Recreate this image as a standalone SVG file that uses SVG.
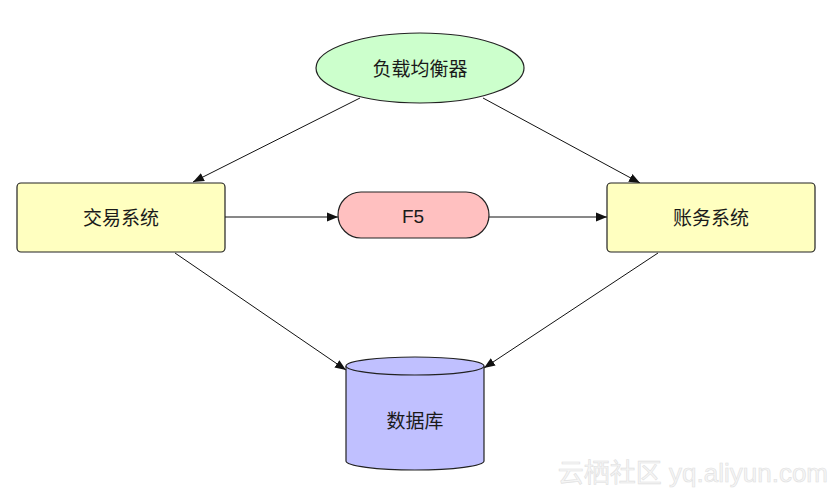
<svg xmlns="http://www.w3.org/2000/svg" width="839" height="498" viewBox="0 0 839 498">
<style>
.lbl{font-family:"Liberation Sans","Noto Sans CJK SC",sans-serif;font-size:19px;fill:#1a1a1a;text-anchor:middle;dominant-baseline:central}
.edge{stroke:#111;stroke-width:1;fill:none;marker-end:url(#arr)}
.box{fill:#ffffc0;stroke:#222;stroke-width:1.2}
</style>
<defs>
<marker id="arr" viewBox="0 0 10 10" refX="10" refY="5" markerWidth="11" markerHeight="11" markerUnits="userSpaceOnUse" orient="auto">
<path d="M0,1 L10,5 L0,9 Z" fill="#111"/>
</marker>
</defs>
<rect width="839" height="498" fill="#fff"/>
<g id="connectors">
<line class="edge" x1="360" y1="98" x2="193" y2="182"/>
<line class="edge" x1="483" y1="98" x2="640" y2="183"/>
<line class="edge" x1="225" y1="217" x2="338" y2="217"/>
<line class="edge" x1="489" y1="217" x2="607" y2="217"/>
<line class="edge" x1="175" y1="253" x2="346" y2="370"/>
<line class="edge" x1="658" y1="253" x2="484" y2="368"/>
</g>
<g id="lb">
<ellipse cx="420" cy="68" rx="104" ry="35" fill="#ccffcc" stroke="#222" stroke-width="1.2"/>
<text class="lbl" x="420" y="69">负载均衡器</text>
</g>
<g id="trade">
<rect class="box" x="17" y="183" width="208" height="69" rx="4"/>
<text class="lbl" x="121" y="218">交易系统</text>
</g>
<g id="f5">
<rect x="338" y="192" width="151" height="46" rx="23" fill="#ffc0c0" stroke="#222" stroke-width="1.2"/>
<text class="lbl" x="413" y="216">F5</text>
</g>
<g id="account">
<rect class="box" x="607" y="183" width="208" height="69" rx="4"/>
<text class="lbl" x="711" y="218">账务系统</text>
</g>
<g id="db">
<path d="M346,366 L346,461 A69,9 0 0 0 484,461 L484,366" fill="#c0c0ff" stroke="#222" stroke-width="1.2"/>
<ellipse cx="415" cy="366" rx="69" ry="9" fill="#c0c0ff" stroke="#222" stroke-width="1.2"/>
<text class="lbl" x="415" y="421">数据库</text>
</g>
<text x="828" y="482" font-family="'Liberation Sans','Noto Sans CJK SC',sans-serif" font-size="26" fill="#f6f6f6" stroke="#e0e0e0" stroke-width="0.6" text-anchor="end">云栖社区 yq.aliyun.com</text>
</svg>
